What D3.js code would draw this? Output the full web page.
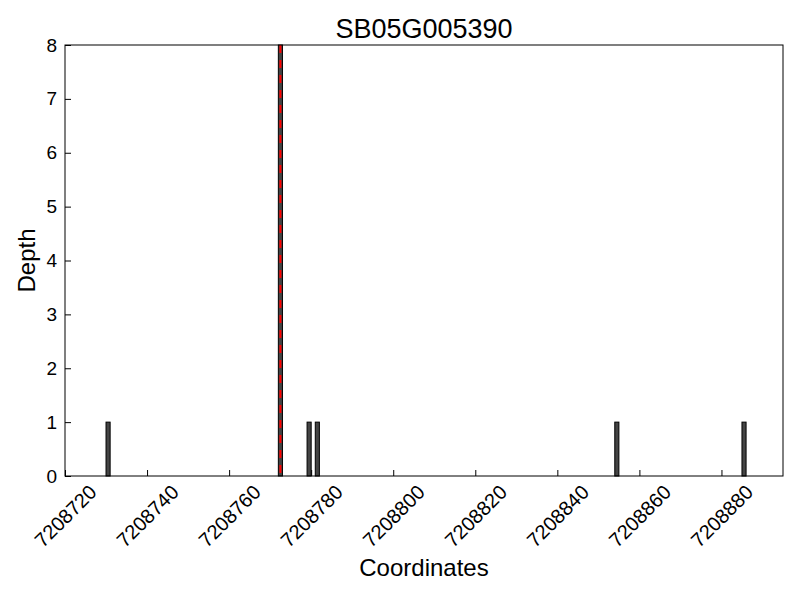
<!DOCTYPE html>
<html>
<head>
<meta charset="utf-8">
<script src="https://cdn.jsdelivr.net/npm/d3@7"></script>
<style>
  html, body { margin: 0; padding: 0; background: #fff; }
  svg { display: block; font-family: "Liberation Sans", Arial, sans-serif; }
</style>
</head>
<body>
<svg id="chart" width="800" height="600"></svg>
<script>
const title = "SB05G005390";
const positions = [7208730, 7208772, 7208779, 7208781, 7208854, 7208885];
const depths = [1, 8, 1, 1, 1, 1];
const markerPositions = [7208772.5];
const xTicks = [7208720, 7208740, 7208760, 7208780, 7208800, 7208820, 7208840, 7208860, 7208880];
const yTicks = [0, 1, 2, 3, 4, 5, 6, 7, 8];
const xDomain = [7208720, 7208895];
const yDomain = [0, 8];

const svg = d3.select("#chart");
const m = { left: 65, right: 783, top: 45, bottom: 476 };

const x = d3.scaleLinear().domain(xDomain).range([m.left, m.right]);
const y = d3.scaleLinear().domain(yDomain).range([m.bottom, m.top]);

// bars
svg.append("g").selectAll("rect").data(positions).join("rect")
  .attr("x", (d) => x(d))
  .attr("width", (d) => x(d + 1) - x(d))
  .attr("y", (d, i) => y(depths[i]))
  .attr("height", (d, i) => y(0) - y(depths[i]))
  .attr("fill", "#444")
  .attr("stroke", "#000")
  .attr("stroke-width", 1);

// marker lines
svg.append("g").selectAll("line").data(markerPositions).join("line")
  .attr("x1", (d) => x(d)).attr("x2", (d) => x(d))
  .attr("y1", y(yDomain[1])).attr("y2", y(0))
  .attr("stroke", "red")
  .attr("stroke-width", 2)
  .attr("stroke-dasharray", "8,7");

// x axis (inward ticks)
const xAxis = d3.axisBottom(x).tickValues(xTicks).tickSize(-6).tickFormat(d3.format("d"));
const gx = svg.append("g").attr("transform", `translate(0,${m.bottom})`).call(xAxis);
gx.select(".domain").remove();
gx.selectAll(".tick line").attr("stroke", "#000");
gx.selectAll(".tick text")
  .attr("font-size", 20)
  .attr("fill", "#000")
  .attr("text-anchor", "middle")
  .attr("dy", null)
  .attr("y", null)
  .attr("dominant-baseline", "central")
  .attr("transform", "translate(0,40) rotate(-45)");

// y axis
const yAxis = d3.axisLeft(y).tickValues(yTicks).tickSize(-6).tickPadding(8);
const gy = svg.append("g").attr("transform", `translate(${m.left},0)`).call(yAxis);
gy.select(".domain").remove();
gy.selectAll(".tick line").attr("stroke", "#000");
gy.selectAll(".tick text").attr("font-size", 19).attr("fill", "#000");

// frame
svg.append("rect")
  .attr("x", m.left).attr("y", m.top)
  .attr("width", m.right - m.left).attr("height", m.bottom - m.top)
  .attr("fill", "none").attr("stroke", "#000").attr("stroke-width", 1);

// title and labels
svg.append("text").attr("x", (m.left + m.right) / 2).attr("y", 38)
  .attr("text-anchor", "middle").attr("font-size", 27).text(title);
svg.append("text").attr("x", (m.left + m.right) / 2).attr("y", 576)
  .attr("text-anchor", "middle").attr("font-size", 24).text("Coordinates");
svg.append("text").attr("transform", `translate(35,${(m.top + m.bottom) / 2}) rotate(-90)`)
  .attr("text-anchor", "middle").attr("font-size", 24).text("Depth");
</script>
</body>
</html>
